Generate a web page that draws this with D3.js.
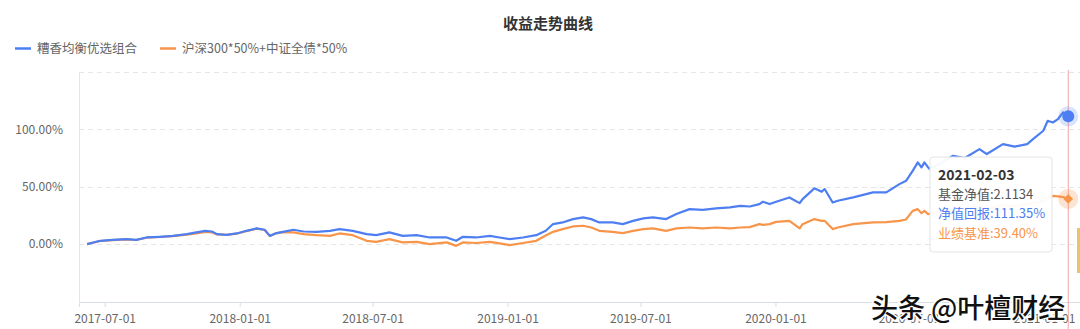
<!DOCTYPE html>
<html>
<head>
<meta charset="utf-8">
<script src="https://cdn.jsdelivr.net/npm/d3@7"></script>
<style>
  body { margin: 0; background: #fff; }
  svg { display: block; font-family: "Noto Sans CJK SC", "Noto Sans", sans-serif; }
</style>
</head>
<body>
<div id="chart"></div>
<script>
var WIDTH = 1080, HEIGHT = 329;

var seriesNames = ['糟香均衡优选组合', '沪深300*50%+中证全债*50%'];
var seriesColors = ['#4d7ef2', '#f7954a'];

// dates, values in %
var dates = [
    '2017-06-07', '2017-06-25', '2017-07-12', '2017-07-31', '2017-08-13', '2017-08-27',
    '2017-09-14', '2017-10-02', '2017-10-21', '2017-11-03', '2017-11-15', '2017-11-24',
    '2017-12-01', '2017-12-14', '2017-12-28', '2018-01-10', '2018-01-24', '2018-02-04',
    '2018-02-11', '2018-02-20', '2018-03-01', '2018-03-15', '2018-03-29', '2018-04-16',
    '2018-05-04', '2018-05-17', '2018-06-04', '2018-06-23', '2018-07-06', '2018-07-24',
    '2018-08-11', '2018-08-30', '2018-09-17', '2018-10-10', '2018-10-23', '2018-11-01',
    '2018-11-19', '2018-12-08', '2018-12-21', '2019-01-04', '2019-01-22', '2019-02-09',
    '2019-02-22', '2019-03-04', '2019-03-17', '2019-03-31', '2019-04-14', '2019-04-25',
    '2019-05-06', '2019-05-24', '2019-06-07', '2019-06-21', '2019-07-05', '2019-07-18',
    '2019-08-05', '2019-08-19', '2019-09-06', '2019-09-24', '2019-10-12', '2019-10-31',
    '2019-11-14', '2019-11-27', '2019-12-10', '2019-12-15', '2019-12-24', '2020-01-02',
    '2020-01-20', '2020-02-03', '2020-02-07', '2020-02-23', '2020-03-04', '2020-03-08',
    '2020-03-19', '2020-03-26', '2020-04-16', '2020-05-13', '2020-05-31', '2020-06-18',
    '2020-06-27', '2020-07-06', '2020-07-13', '2020-07-18', '2020-07-22', '2020-07-27',
    '2020-07-29', '2020-08-12', '2020-08-30', '2020-09-15', '2020-10-05', '2020-10-15',
    '2020-11-06', '2020-11-22', '2020-12-09', '2020-12-17', '2020-12-31', '2021-01-06',
    '2021-01-13', '2021-01-20', '2021-01-27', '2021-02-03'
];

var fundReturn = [
    0, 2.9, 3.7, 4.4, 3.7, 5.8,
    6.4, 7.2, 8.7, 10.2, 11.6, 11.0,
    8.7, 8.1, 9.3, 11.6, 13.7, 12.5,
    7.2, 9.6, 10.7, 12.5, 11.0, 10.7,
    11.6, 13.1, 11.6, 8.7, 7.8, 10.2,
    7.2, 7.8, 5.8, 5.8, 2.9, 6.4,
    5.8, 7.2, 5.8, 4.4, 5.8, 7.8,
    11.6, 17.5, 18.9, 21.8, 23.3, 21.8,
    18.9, 18.9, 17.4, 20.3, 22.4, 23.3,
    21.8, 26.2, 30.5, 29.9, 31.1, 32.0,
    33.4, 32.8, 34.9, 36.9, 34.9, 36.9,
    40.7, 35.7, 39.2, 48.6, 45.6, 48.0,
    36.3, 37.8, 40.7, 45.1, 45.1, 52.3,
    55.2, 63.9, 71.2, 66.9, 71.2, 66.9,
    65.4, 70.0, 77.0, 75.0, 82.8, 78.5,
    87.2, 85.0, 87.2, 91.5, 98.8, 107.5,
    106.0, 109.0, 114.8, 111.35
];

var benchReturn = [
    0, 2.7, 3.5, 4.2, 3.6, 5.6,
    6.2, 6.9, 8.3, 9.3, 10.7, 10.3,
    8.5, 8.0, 9.1, 11.2, 13.5, 12.3,
    7.0, 9.4, 10.5, 10.2, 8.7, 7.8,
    7.2, 9.3, 7.8, 2.9, 2.0, 4.4,
    1.5, 2.0, 0, 1.5, -1.5, 1.5,
    1.0, 2.0, 0.6, -0.9, 1.0, 2.9,
    7.5, 10.7, 13.1, 15.4, 16.0, 14.5,
    11.6, 10.7, 9.6, 11.6, 13.1, 13.7,
    11.6, 13.7, 14.5, 13.7, 14.5, 13.7,
    14.5, 14.8, 17.4, 16.8, 17.4, 19.4,
    20.3, 13.7, 17.4, 21.8, 20.3, 20.3,
    13.1, 14.5, 17.4, 18.9, 19.2, 20.3,
    21.5, 29.0, 30.5, 27.0, 29.0, 26.2,
    26.5, 28.0, 29.0, 31.0, 33.0, 31.0,
    34.0, 33.0, 35.0, 36.0, 37.0, 40.0,
    42.0, 41.6, 41.0, 39.4
];

var yTicks = [0, 50, 100];
var yGrid = [0, 50, 100, 150];
var xTicks = ['2017-07-01', '2018-01-01', '2018-07-01', '2019-01-01', '2019-07-01',
              '2020-01-01', '2020-07-01', '2021-01-01'];

// tooltip content for the hovered day
var tipDate = '2021-02-03';
var tipNav = '2.1134';

var parse = d3.timeParse('%Y-%m-%d');

var margin = {left: 79, right: 0, top: 72, bottom: 27};

var x = d3.scaleTime()
    .domain([parse('2017-05-27'), parse('2021-02-19')])
    .range([margin.left, WIDTH - margin.right]);

var y = d3.scaleLinear()
    .domain([-50, 150])
    .range([HEIGHT - margin.bottom - 0.5, margin.top]);

var svg = d3.select('#chart').append('svg')
    .attr('width', WIDTH)
    .attr('height', HEIGHT);

// title
svg.append('text')
    .attr('x', 548).attr('y', 29)
    .attr('text-anchor', 'middle')
    .style('font-size', '15px')
    .style('font-weight', 'bold')
    .attr('fill', '#333')
    .text('收益走势曲线');

// legend
var legendX = [15, 160];
seriesNames.forEach(function(name, i) {
    var g = svg.append('g').attr('transform', 'translate(' + legendX[i] + ',48.5)');
    g.append('line')
        .attr('x1', 0).attr('x2', 16)
        .attr('stroke', seriesColors[i])
        .attr('stroke-width', 2.5);
    g.append('text')
        .attr('x', 22).attr('y', 4.5)
        .style('font-size', '12.5px')
        .attr('fill', '#666')
        .text(name);
});

// grid
svg.append('g').selectAll('line').data(yGrid).enter()
    .append('line')
    .attr('x1', margin.left).attr('x2', WIDTH)
    .attr('y1', function(d) { return Math.round(y(d)) + 0.5; })
    .attr('y2', function(d) { return Math.round(y(d)) + 0.5; })
    .attr('stroke', '#e6e6e6')
    .attr('stroke-dasharray', '5,4');

// y axis
var yAxis = svg.append('g')
    .attr('transform', 'translate(' + margin.left + ',0)')
    .call(d3.axisLeft(y).tickValues(yTicks).tickSize(0).tickPadding(16)
        .tickFormat(function(d) { return d.toFixed(2) + '%'; }));
yAxis.select('.domain').attr('stroke', '#e3e6ee');
yAxis.selectAll('text')
    .attr('fill', '#666')
    .style('font-size', '12px')
    .style('font-family', '"Noto Sans CJK SC", sans-serif');

// x axis
var xAxis = svg.append('g')
    .attr('transform', 'translate(0,' + (HEIGHT - margin.bottom) + ')')
    .call(d3.axisBottom(x).tickValues(xTicks.map(parse)).tickSize(5).tickPadding(7)
        .tickFormat(d3.timeFormat('%Y-%m-%d')));
xAxis.select('.domain').attr('stroke', '#d9dde6');
xAxis.selectAll('.tick line').attr('stroke', '#d9dde6');
xAxis.selectAll('text')
    .attr('fill', '#666')
    .style('font-size', '12px')
    .style('font-family', '"Noto Sans CJK SC", sans-serif');

// lines
var parsedDates = dates.map(parse);
var line = d3.line()
    .x(function(d, i) { return x(parsedDates[i]); })
    .y(function(d) { return y(d); });

[benchReturn, fundReturn].forEach(function(vals, k) {
    svg.append('path')
        .datum(vals)
        .attr('d', line)
        .attr('fill', 'none')
        .attr('stroke', seriesColors[k === 0 ? 1 : 0])
        .attr('stroke-width', 2.2)
        .attr('stroke-linejoin', 'round');
});

// hover indicator
var last = dates.length - 1;
var hx = x(parse(tipDate));
svg.append('line')
    .attr('x1', hx).attr('x2', hx)
    .attr('y1', margin.top - 2).attr('y2', HEIGHT)
    .attr('stroke', '#f5a3a3')
    .attr('stroke-width', 1);

var by = y(fundReturn[last]);
svg.append('circle').attr('cx', hx).attr('cy', by).attr('r', 10)
    .attr('fill', seriesColors[0]).attr('fill-opacity', 0.22);
svg.append('circle').attr('cx', hx).attr('cy', by).attr('r', 6)
    .attr('fill', seriesColors[0]);

var oy = y(benchReturn[last]);
svg.append('circle').attr('cx', hx).attr('cy', oy).attr('r', 10)
    .attr('fill', seriesColors[1]).attr('fill-opacity', 0.25);
svg.append('path')
    .attr('d', d3.symbol().type(d3.symbolDiamond2).size(60)())
    .attr('transform', 'translate(' + hx + ',' + oy + ')')
    .attr('fill', seriesColors[1]);

// small yellow block at the right edge
svg.append('rect')
    .attr('x', 1077).attr('y', 228).attr('width', 3).attr('height', 45)
    .attr('fill', '#e9c46a');

// tooltip
var tip = svg.append('g').attr('transform', 'translate(930,157)');
tip.append('rect')
    .attr('width', 122).attr('height', 95)
    .attr('rx', 3)
    .attr('fill', '#fff').attr('fill-opacity', 0.95)
    .attr('stroke', '#e4e4e4');
tip.append('text')
    .attr('x', 8).attr('y', 23)
    .style('font-size', '14px').style('font-weight', 'bold')
    .attr('fill', '#333')
    .text(tipDate);
var tipLines = [
    {text: '基金净值:' + tipNav, color: '#555'},
    {text: '净值回报:' + fundReturn[last].toFixed(2) + '%', color: seriesColors[0]},
    {text: '业绩基准:' + benchReturn[last].toFixed(2) + '%', color: seriesColors[1]}
];
tip.selectAll('text.row').data(tipLines).enter()
    .append('text')
    .classed('row', true)
    .attr('x', 8)
    .attr('y', function(d, i) { return 42 + i * 19.3; })
    .style('font-size', '13px')
    .attr('fill', function(d) { return d.color; })
    .text(function(d) { return d.text; });

// watermark
svg.append('text')
    .attr('x', 871).attr('y', 318)
    .style('font-size', '27px')
    .style('font-weight', 500)
    .attr('fill', '#111')
    .attr('stroke', '#fff')
    .attr('stroke-width', 3)
    .attr('paint-order', 'stroke')
    .text('头条 @叶檀财经');
</script>
</body>
</html>
